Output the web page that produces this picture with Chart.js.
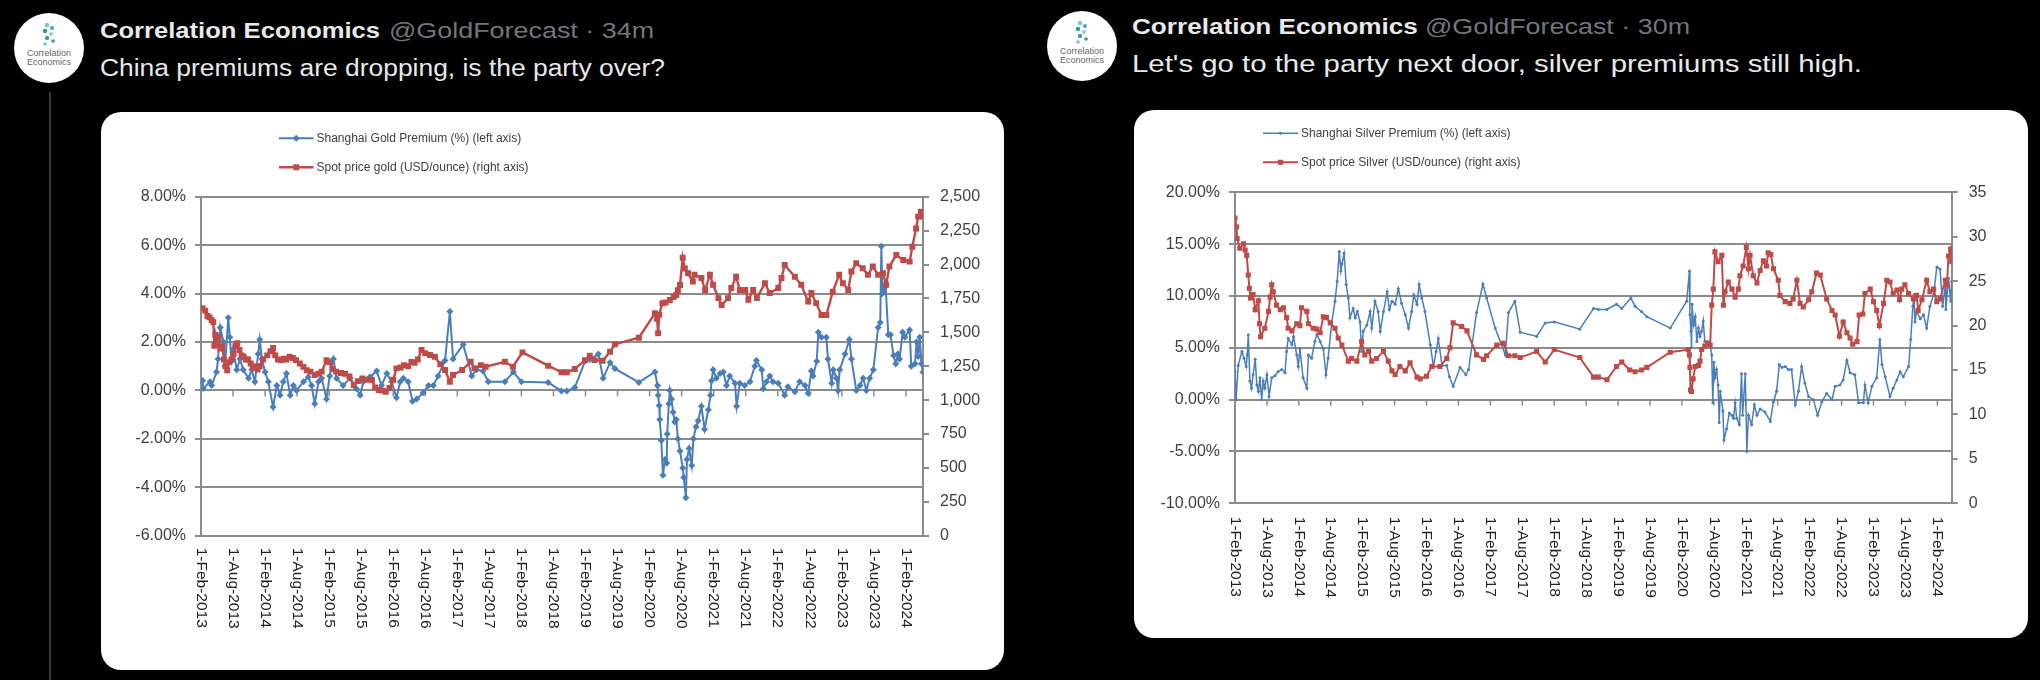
<!DOCTYPE html>
<html>
<head>
<meta charset="utf-8">
<script src="https://cdn.jsdelivr.net/npm/chart.js@4.4.1/dist/chart.umd.min.js"></script>
<style>
html, body { margin: 0; padding: 0; background: #000; }
body { width: 2040px; height: 680px; position: relative; overflow: hidden; font-family: "Liberation Sans", Arial, sans-serif; }
.avatar { position: absolute; width: 70px; height: 70px; border-radius: 50%; background: #fff; overflow: hidden; }
.thread { position: absolute; left: 49px; top: 92px; width: 2px; height: 588px; background: #333639; }
.tw { position: absolute; white-space: nowrap; transform-origin: 0 0; color: #e7e9ea; line-height: 1; }
.name { font-weight: bold; font-size: 22px; }
.handle { color: #71767b; font-size: 22px; }
.body { font-size: 23px; }
.card { position: absolute; background: #fff; border-radius: 20px; overflow: hidden; }
.card canvas { position: absolute; left: 0; top: 0; }
</style>
</head>
<body>

<div class="thread"></div>

<svg class="avatar" style="left:14px;top:13px" viewBox="0 0 70 70">
  <circle cx="33" cy="12" r="2.2" fill="#7cc6bd"/><circle cx="38" cy="15" r="2" fill="#3fa9c9"/>
  <circle cx="31" cy="18" r="2.2" fill="#2e9d8f"/><circle cx="37" cy="21" r="2" fill="#8fd0c8"/>
  <circle cx="33" cy="25" r="2.2" fill="#4a90c2"/><circle cx="39" cy="28" r="1.8" fill="#2e9d8f"/>
  <circle cx="31" cy="31" r="1.8" fill="#7cc6bd"/>
  <text x="35" y="43" font-size="9" text-anchor="middle" fill="#666" font-family="Liberation Sans Narrow, Liberation Sans">Correlation</text>
  <text x="35" y="52" font-size="9" text-anchor="middle" fill="#666" font-family="Liberation Sans Narrow, Liberation Sans">Economics</text>
</svg>
<div class="tw name" style="left:100px;top:20px" data-w="280">Correlation Economics</div>
<div class="tw handle" style="left:389px;top:20px" data-w="265">@GoldForecast · 34m</div>
<div class="tw body" style="left:100px;top:57px" data-w="565">China premiums are dropping, is the party over?</div>

<svg class="avatar" style="left:1047px;top:11px" viewBox="0 0 70 70">
  <circle cx="33" cy="12" r="2.2" fill="#7cc6bd"/><circle cx="38" cy="15" r="2" fill="#3fa9c9"/>
  <circle cx="31" cy="18" r="2.2" fill="#2e9d8f"/><circle cx="37" cy="21" r="2" fill="#8fd0c8"/>
  <circle cx="33" cy="25" r="2.2" fill="#4a90c2"/><circle cx="39" cy="28" r="1.8" fill="#2e9d8f"/>
  <circle cx="31" cy="31" r="1.8" fill="#7cc6bd"/>
  <text x="35" y="43" font-size="9" text-anchor="middle" fill="#666" font-family="Liberation Sans Narrow, Liberation Sans">Correlation</text>
  <text x="35" y="52" font-size="9" text-anchor="middle" fill="#666" font-family="Liberation Sans Narrow, Liberation Sans">Economics</text>
</svg>
<div class="tw name" style="left:1132px;top:16px" data-w="286">Correlation Economics</div>
<div class="tw handle" style="left:1425px;top:16px" data-w="265">@GoldForecast · 30m</div>
<div class="tw body" style="left:1132px;top:53px" data-w="730">Let's go to the party next door, silver premiums still high.</div>

<div class="card" style="left:101px;top:112px;width:903px;height:558px">
  <canvas id="chartGold" width="903" height="558"></canvas>
</div>
<div class="card" style="left:1134px;top:110px;width:894px;height:528px">
  <canvas id="chartSilver" width="894" height="528"></canvas>
</div>

<script>
// ---------- Eje X: meses desde 1-Feb-2013 ----------
const xTickMonths = [0, 6, 12, 18, 24, 30, 36, 42, 48, 54, 60, 66, 72, 78, 84, 90, 96, 102, 108, 114, 120, 126, 132];
const xTickLabels = ["1-Feb-2013", "1-Aug-2013", "1-Feb-2014", "1-Aug-2014", "1-Feb-2015", "1-Aug-2015",
  "1-Feb-2016", "1-Aug-2016", "1-Feb-2017", "1-Aug-2017", "1-Feb-2018", "1-Aug-2018", "1-Feb-2019",
  "1-Aug-2019", "1-Feb-2020", "1-Aug-2020", "1-Feb-2021", "1-Aug-2021", "1-Feb-2022", "1-Aug-2022",
  "1-Feb-2023", "1-Aug-2023", "1-Feb-2024"];

// ---------- Oro: prima Shanghai (%) ----------
const goldPremiumMonths = [0.3,0.4,1.7,2.0,2.9,3.2,3.6,4.2,4.5,5.1,5.4,5.7,6.0,6.7,7.3,7.9,8.9,9.5,10.1,10.7,
  11.0,11.4,12.0,12.6,13.5,14.2,14.8,15.4,16.0,16.7,17.3,17.9,19.2,20.1,20.7,21.3,22.0,22.6,23.5,24.1,
  24.8,25.4,26.6,27.9,29.1,29.8,30.4,31.6,32.9,33.8,34.8,35.7,36.6,37.3,37.9,38.8,39.6,40.4,41.6,42.6,
  43.5,44.4,
  45.7,46.6,47.2,49.1,50.7,51.6,52.8,53.8,56.9,58.5,60.0,65.0,67.5,68.5,70.0,71.9,72.8,74.4,75.3,76.6,
  77.5,82.0,85.0,85.5,85.6,85.8,85.9,86.2,86.5,86.9,87.2,87.3,87.6,87.8,88.1,88.4,88.7,89.0,89.3,89.7,
  90.2,90.4,90.8,91.0,91.4,91.9,92.2,92.7,93.1,93.7,94.3,95.0,95.4,95.6,95.9,96.5,97.2,97.8,98.4,99.0,
  100.0,100.3,100.9,101.8,102.8,103.7,104.0,105.0,105.3,105.9,106.5,107.1,108.1,109.3,109.9,111.2,112.1,113.1,113.7,114.3,
  114.6,115.3,115.6,116.2,117.1,117.4,118.1,118.4,119.0,119.3,119.6,120.6,121.4,121.8,122.7,123.4,124.0,124.6,125.2,125.9,
  126.8,127.2,127.4,127.6,127.8,128.2,128.7,129.1,129.7,130.1,130.5,130.8,131.4,131.8,132.7,133.0,133.7,134.0,134.3,134.6,
  134.9,135.2];
const goldPremiumValues = [0.41,0.08,0.36,0.2,0.76,1.3,2.6,2.0,1.0,3.0,2.2,1.2,1.7,0.85,1.3,0.85,0.5,0.85,0.36,1.5,
  2.1,1.3,0.76,0.36,-0.69,0.2,-0.2,0.36,0.7,-0.2,0.2,0.0,0.36,0.55,0.2,-0.55,0.36,0.5,-0.35,0.6,
  1.3,0.5,0.2,0.5,0.07,-0.2,0.36,0.55,0.8,0.2,0.7,0.36,-0.3,0.36,0.5,0.36,-0.45,-0.35,-0.1,0.2,
  0.2,0.6,
  1.24,3.26,1.3,1.9,0.6,0.85,0.8,0.36,0.36,0.76,0.36,0.33,-0.02,-0.02,0.12,1.2,1.28,1.5,0.5,1.15,
  0.9,0.33,0.76,0.2,-0.2,-0.62,-1.2,-2.07,-3.5,-2.85,-3.0,-1.8,-0.55,0.0,-0.35,-0.9,-1.3,-1.2,-2.0,-2.5,
  -3.2,-3.6,-4.43,-2.85,-2.4,-3.1,-2.0,-1.5,-1.25,-0.65,-1.6,-0.8,-0.2,0.4,0.85,0.5,0.7,0.76,0.2,0.6,
  0.3,-0.65,0.3,0.2,0.36,1.0,1.24,0.85,0.07,0.36,0.6,0.36,0.3,-0.2,0.15,-0.05,0.36,0.2,-0.12,0.8,
  0.6,1.2,2.4,2.2,2.2,1.3,0.3,0.85,0.5,0.0,0.85,1.5,2.1,1.3,0.0,0.2,0.5,0.0,0.5,0.85,
  2.6,2.8,5.95,4.0,4.1,4.3,2.3,2.3,1.44,1.1,1.5,1.3,2.4,2.2,2.5,1.0,1.1,2.0,1.4,2.2,
  1.1,0.75];

// ---------- Oro: precio spot (USD/oz) ----------
const goldPriceMonths = [0.3,0.8,1.2,1.6,2.0,2.3,2.5,2.7,3.0,3.3,3.6,4.0,4.3,4.6,4.9,5.3,5.7,6.1,6.5,6.8,
  7.2,7.6,8.0,8.4,8.8,9.3,9.7,10.2,10.6,11.0,11.6,12.4,13.0,13.5,13.9,14.4,15.0,15.5,16.0,16.6,
  17.2,17.8,18.5,19.2,19.8,20.5,21.3,22.0,22.6,23.5,24.0,24.6,25.3,26.2,27.0,27.8,28.6,29.4,30.2,31.1,
  32.0,32.6,33.3,34.0,34.6,35.3,36.0,36.6,37.4,38.0,38.8,39.4,40.0,40.6,41.3,42.0,42.9,43.8,44.8,45.7,
  46.6,47.2,48.9,50.5,51.2,52.4,53.3,56.9,58.4,60.2,65.0,67.5,68.5,70.0,71.9,72.8,73.7,75.2,76.6,77.5,
  82.0,85.0,85.4,85.6,85.8,86.4,87.0,87.8,88.5,89.0,89.3,89.7,90.2,90.6,91.2,92.1,92.4,93.7,94.4,95.3,
  95.9,96.9,97.5,98.7,99.3,100.2,100.9,101.9,102.5,103.4,104.1,105.6,106.5,108.1,108.7,109.3,111.2,112.4,113.7,114.3,
  115.2,116.2,117.1,118.3,119.5,120.2,121.2,121.8,122.7,123.9,124.9,125.8,126.8,127.7,128.3,128.9,130.2,131.5,132.7,133.2,
  133.9,134.3,134.8,135.2];
const goldPriceValues = [1677,1660,1620,1610,1590,1575,1400,1480,1420,1460,1380,1395,1300,1250,1220,1280,1300,1340,1400,1420,
  1370,1330,1320,1300,1300,1270,1250,1240,1225,1250,1300,1330,1360,1385,1330,1300,1295,1305,1300,1320,
  1310,1295,1270,1245,1220,1210,1185,1195,1210,1295,1280,1230,1210,1200,1195,1175,1112,1140,1160,1150,
  1150,1094,1075,1070,1062,1090,1150,1234,1240,1258,1250,1282,1275,1300,1370,1345,1332,1320,1265,1222,
  1136,1185,1222,1283,1234,1258,1246,1283,1246,1352,1254,1205,1205,1230,1295,1327,1295,1290,1357,1411,
  1460,1640,1600,1493,1630,1714,1720,1738,1760,1775,1810,1849,2050,1970,1935,1874,1924,1900,1812,1924,
  1850,1752,1701,1752,1826,1910,1812,1812,1740,1812,1752,1862,1790,1826,1900,1996,1910,1850,1726,1790,
  1715,1627,1627,1800,1924,1862,1812,1948,2009,1972,1924,1985,1924,1935,1850,1985,2070,2033,2021,2131,
  2266,2353,2390,2353];

// ---------- Plata: prima Shanghai (%) ----------
const silverPremiumMonths = [0.0,0.2,0.6,1.3,1.7,2.1,2.3,2.5,2.8,3.1,3.4,3.8,4.1,4.4,4.7,5.0,5.3,5.6,6.0,6.4,
  6.9,7.5,8.1,8.8,9.4,9.7,10.0,10.7,11.0,11.6,11.9,12.2,12.8,13.5,13.8,14.4,15.0,15.4,16.0,16.6,
  17.1,17.5,18.2,18.8,19.2,19.6,19.9,20.1,20.5,20.9,21.3,21.6,22.2,22.6,23.0,23.5,23.8,24.1,24.8,25.4,
  25.7,26.3,26.9,27.3,27.9,28.6,29.0,29.5,30.1,30.7,31.3,32.0,32.6,33.2,33.6,34.2,34.6,35.1,35.7,36.7,
  37.3,37.8,38.2,38.9,39.8,40.3,41.0,42.3,43.4,43.9,
  45.4,46.6,47.3,48.9,50.8,51.4,52.6,53.6,56.7,58.3,60.0,64.8,67.4,68.3,69.9,71.7,72.7,74.4,75.2,76.4,
  77.4,81.8,84.9,85.4,85.5,85.7,85.8,85.9,86.2,86.5,86.8,87.1,87.4,87.7,88.0,88.3,
  88.7,89.3,89.6,89.8,90.0,90.2,90.5,90.8,91.0,91.2,91.7,91.9,92.4,92.9,93.4,93.7,94.0,94.3,94.8,95.2,
  95.4,95.9,96.2,96.5,97.1,97.6,98.1,98.7,99.6,100.6,101.2,101.8,102.3,102.8,103.4,104.0,104.6,105.3,105.9,106.5,
  107.1,107.8,108.7,109.5,110.3,111.2,112.2,112.8,113.7,114.3,115.0,115.6,116.5,117.2,118.1,118.4,119.0,119.7,120.6,121.2,
  121.6,122.2,123.1,123.7,124.4,125.0,125.6,126.6,127.0,127.4,127.6,127.8,128.1,128.8,129.4,130.0,130.6,131.3,131.9,132.5,
  133.0,133.5,133.6,134.1,134.5,134.7];
const silverPremiumValues = [2.7,0.0,3.3,4.65,4.0,3.2,4.3,6.27,1.8,1.1,2.4,3.9,1.4,0.8,2.1,0.0,1.8,1.1,2.4,0.3,
  2.1,2.3,2.7,2.9,2.6,4.65,5.9,5.3,6.1,4.3,3.2,4.9,2.1,1.1,4.3,4.0,5.6,6.3,5.6,4.9,
  2.4,4.0,7.5,9.5,11.4,14.3,12.4,13.1,14.1,11.1,9.8,7.9,8.8,7.9,8.5,7.5,4.65,6.6,7.2,8.5,
  6.9,9.5,8.5,6.6,8.5,10.4,8.7,9.5,9.2,10.7,9.3,8.2,6.9,8.5,10.1,9.2,11.1,9.8,8.5,5.3,
  3.2,4.65,5.9,3.3,3.3,2.2,1.3,3.1,2.4,2.9,
  8.4,11.15,9.8,6.9,4.3,8.4,9.5,6.5,6.1,7.4,7.5,6.8,8.8,8.7,8.7,9.2,8.8,9.8,9.0,8.5,
  8.0,6.9,9.5,12.4,8.2,6.6,5.0,9.2,7.2,8.0,5.6,6.9,6.1,6.6,7.6,5.6,
  5.6,5.3,4.3,-0.3,3.6,2.1,2.9,1.4,-2.2,0.8,-1.1,-3.9,-2.8,-1.3,-1.5,-1.8,-0.3,-1.8,-2.4,2.5,
  -1.5,2.5,-5.0,-1.5,-2.4,-0.5,-1.5,-0.9,-1.2,-2.1,-0.2,0.8,3.4,3.1,3.2,2.9,2.9,-0.5,0.8,3.2,
  1.6,0.3,0.0,-1.5,-0.2,0.6,0.0,1.3,1.4,1.9,3.8,2.6,2.4,-0.3,-0.3,1.4,-0.3,1.3,2.1,5.8,
  3.4,2.2,0.3,1.1,1.9,2.7,2.2,3.2,5.8,9.0,10.1,7.5,8.5,7.8,8.2,6.9,9.0,10.1,12.8,12.6,
  9.0,11.1,8.7,11.7,9.5,11.4];

// ---------- Plata: precio spot (USD/oz) ----------
const silverPriceMonths = [0.0,0.3,0.4,0.9,1.6,1.9,2.2,2.5,2.7,2.9,3.4,3.8,4.4,4.6,4.8,5.6,6.3,6.6,6.9,7.2,
  7.8,8.5,9.1,9.7,10.0,10.7,11.6,12.2,12.5,13.5,13.8,14.7,15.4,16.0,16.6,17.2,17.9,18.8,19.4,20.1,
  21.3,21.9,22.9,23.8,24.4,25.1,25.7,26.6,27.9,28.8,29.5,30.1,31.0,32.0,32.9,34.2,34.8,36.0,37.0,38.5,
  39.8,40.4,41.0,42.6,43.6,
  45.4,46.7,47.3,49.2,50.4,51.4,52.6,53.6,56.7,58.3,60.0,64.8,67.4,68.3,69.9,71.7,72.7,74.2,75.2,76.4,
  77.4,81.8,85.2,85.4,85.5,85.6,85.8,86.1,86.5,87.1,87.4,87.7,88.3,
  88.9,89.3,89.6,89.9,90.2,90.8,91.5,91.8,92.1,92.7,93.4,94.0,94.6,94.9,95.5,96.1,96.5,96.8,97.4,98.1,
  98.7,99.3,99.9,100.2,100.7,101.2,102.1,102.4,103.4,104.3,104.9,105.6,106.2,106.8,107.8,108.4,109.3,110.0,111.2,112.2,
  112.8,113.6,114.3,115.0,115.6,116.1,116.9,117.3,118.0,118.4,119.4,120.0,120.6,121.1,121.9,122.5,123.1,123.7,124.4,124.9,
  125.3,125.9,126.6,127.5,128.1,128.4,129.1,130.0,130.6,131.3,131.9,132.5,133.5,133.8,134.1,134.5,134.7];
const silverPriceValues = [32.1,31.1,29.8,28.7,29.2,28.5,27.9,25.7,24.2,23.1,23.5,21.8,22.8,20.2,18.75,19.7,21.6,23.2,24.6,23.8,
  22.3,21.8,22.0,20.9,19.7,19.4,20.2,20.0,22.0,21.6,20.2,19.7,19.6,19.2,21.0,20.9,20.3,19.7,18.6,17.8,
  16.0,16.3,16.0,18.2,16.7,17.1,16.0,16.3,17.1,16.0,14.9,14.5,15.4,14.9,15.8,14.2,14.0,14.3,15.4,15.4,
  16.3,17.5,20.3,19.9,19.4,
  16.7,16.2,16.6,17.8,18.0,16.6,16.6,16.4,17.1,15.9,17.3,16.4,14.2,14.2,13.9,15.4,15.9,15.0,14.8,15.0,
  15.3,17.0,17.3,16.7,15.3,12.75,12.6,14.0,15.4,15.5,16.0,17.3,17.7,
  18.0,17.8,22.3,24.1,28.3,27.2,27.9,22.3,23.8,24.9,24.1,23.2,24.1,25.6,26.7,28.8,26.4,27.9,25.6,24.8,
  26.2,27.3,26.7,28.2,28.0,26.4,25.1,23.4,22.7,22.5,23.0,25.1,22.5,22.1,22.9,23.8,25.9,25.7,23.0,21.7,
  21.2,18.8,20.4,19.2,18.6,17.9,18.2,21.2,21.3,23.6,24.1,22.7,21.7,20.0,22.5,25.1,24.9,23.6,24.0,22.9,
  24.1,24.6,23.6,23.0,23.4,21.7,22.9,25.1,23.8,24.1,22.7,23.0,25.1,24.6,27.8,28.6,27.2];

const BLUE = "#4A7EBB";
const RED = "#BE4B48";
const GRID = "#8C8C8C";
const FONT = '"Liberation Sans", Arial, sans-serif';

const toPoints = (xs, ys) => xs.map((x, i) => ({ x, y: ys[i] }));

// ---------- Marcadores estilo Excel ----------
function drawMarker(ctx, style, r, x, y) {
  ctx.beginPath();
  if (style === "rectRot") {
    ctx.moveTo(x, y - r); ctx.lineTo(x + r, y); ctx.lineTo(x, y + r); ctx.lineTo(x - r, y);
    ctx.closePath();
  } else if (style === "rect") {
    const s = r * Math.SQRT1_2;
    ctx.rect(x - s, y - s, 2 * s, 2 * s);
  } else {
    ctx.arc(x, y, r, 0, Math.PI * 2);
  }
  ctx.fill();
}

// Leyenda de dos filas, línea con marcador al centro
const excelLegend = {
  id: "excelLegend",
  afterDraw(chart, args, opts) {
    const ctx = chart.ctx;
    opts.rows.forEach((y, k) => {
      const ds = chart.data.datasets[k];
      ctx.save();
      ctx.strokeStyle = ds.borderColor;
      ctx.lineWidth = ds.borderWidth;
      ctx.beginPath(); ctx.moveTo(opts.x1, y); ctx.lineTo(opts.x2, y); ctx.stroke();
      ctx.fillStyle = ds.pointBackgroundColor;
      drawMarker(ctx, ds.pointStyle, ds.pointRadius, (opts.x1 + opts.x2) / 2, y);
      ctx.fillStyle = "#404040";
      ctx.font = "12px " + FONT;
      ctx.textBaseline = "middle";
      ctx.fillText(ds.label, opts.x2 + 3, y + 0.5);
      ctx.restore();
    });
  }
};

// Marcas del eje de categorías en 0 y etiquetas giradas 90°
const excelDateAxis = {
  id: "excelDateAxis",
  beforeDatasetsDraw(chart) {
    const { ctx } = chart;
    const xs = chart.scales.x, ys = chart.scales.y;
    const y0 = ys.getPixelForValue(0);
    ctx.save();
    ctx.strokeStyle = GRID;
    ctx.lineWidth = 1.5;
    xTickMonths.forEach(m => {
      const px = xs.getPixelForValue(m);
      ctx.beginPath(); ctx.moveTo(px, y0); ctx.lineTo(px, y0 + 6); ctx.stroke();
    });
    ctx.restore();
  },
  afterDraw(chart, args, opts) {
    const { ctx, chartArea } = chart;
    const xs = chart.scales.x;
    ctx.save();
    ctx.fillStyle = "#222";
    ctx.font = "15.5px " + FONT;
    ctx.textAlign = "left";
    ctx.textBaseline = "middle";
    xTickMonths.forEach((m, i) => {
      ctx.save();
      ctx.translate(xs.getPixelForValue(m), chartArea.bottom + opts.gap);
      ctx.rotate(Math.PI / 2);
      ctx.fillText(xTickLabels[i], 0, 0);
      ctx.restore();
    });
    ctx.restore();
  }
};

function buildChart(id, cfg) {
  return new Chart(document.getElementById(id), {
    type: "line",
    data: {
      datasets: [
        {
          label: cfg.premiumLabel,
          data: toPoints(cfg.premiumMonths, cfg.premiumValues),
          yAxisID: "y",
          borderColor: BLUE,
          backgroundColor: BLUE,
          borderWidth: cfg.premiumLine,
          pointStyle: cfg.premiumMarker,
          pointRadius: cfg.premiumRadius,
          pointBackgroundColor: BLUE,
          pointBorderWidth: 0,
          tension: 0,
          order: 2
        },
        {
          label: cfg.priceLabel,
          data: toPoints(cfg.priceMonths, cfg.priceValues),
          yAxisID: "y2",
          borderColor: RED,
          backgroundColor: RED,
          borderWidth: cfg.priceLine,
          pointStyle: "rect",
          pointRadius: cfg.priceRadius,
          pointBackgroundColor: RED,
          pointBorderWidth: 0,
          tension: 0,
          order: 1
        }
      ]
    },
    options: {
      responsive: false,
      animation: false,
      events: [],
      devicePixelRatio: 1,
      layout: { padding: { top: cfg.padTop, left: 0, right: 0, bottom: 0 } },
      plugins: {
        legend: { display: false },
        tooltip: { enabled: false },
        excelLegend: { rows: cfg.legendRows, x1: cfg.legendX1, x2: cfg.legendX2 },
        excelDateAxis: { gap: cfg.labelGap }
      },
      scales: {
        x: {
          type: "linear",
          min: 0,
          max: cfg.xMax,
          ticks: { display: false },
          grid: { display: false },
          border: { display: false },
          afterFit: s => { s.height = cfg.xHeight; }
        },
        y: {
          position: "left",
          min: cfg.leftMin,
          max: cfg.leftMax,
          ticks: {
            stepSize: cfg.leftStep,
            padding: 9,
            color: "#404040",
            font: { family: FONT, size: 16 },
            callback: v => v.toFixed(2) + "%"
          },
          grid: { color: GRID, lineWidth: 2, drawTicks: true, tickLength: 6, tickColor: GRID },
          border: { display: true, color: GRID, width: 2 },
          afterFit: s => { s.width = cfg.leftWidth; }
        },
        y2: {
          position: "right",
          min: 0,
          max: cfg.rightMax,
          ticks: {
            stepSize: cfg.rightStep,
            padding: 11,
            color: "#404040",
            font: { family: FONT, size: 16 }
          },
          grid: { drawOnChartArea: false, color: GRID, lineWidth: 2, drawTicks: true, tickLength: 6, tickColor: GRID },
          border: { display: true, color: GRID, width: 2 },
          afterFit: s => { s.width = cfg.rightWidth; }
        }
      }
    },
    plugins: [excelLegend, excelDateAxis]
  });
}

function fitTweetText() {
  document.querySelectorAll("[data-w]").forEach(el => {
    const w = el.getBoundingClientRect().width;
    el.style.transform = "scaleX(" + (Number(el.dataset.w) / w).toFixed(3) + ")";
  });
}

function start() {
  fitTweetText();

  buildChart("chartGold", {
    premiumLabel: "Shanghai Gold Premium (%) (left axis)",
    priceLabel: "Spot price gold (USD/ounce) (right axis)",
    premiumMonths: goldPremiumMonths, premiumValues: goldPremiumValues,
    priceMonths: goldPriceMonths, priceValues: goldPriceValues,
    premiumMarker: "rectRot", premiumRadius: 3.5, premiumLine: 2,
    priceRadius: 4.2, priceLine: 2.4,
    xMax: 135.2,
    leftMin: -6, leftMax: 8, leftStep: 2,
    rightMax: 2500, rightStep: 250,
    padTop: 84.7, xHeight: 134.3, leftWidth: 100, rightWidth: 81,
    legendRows: [26.3, 55.3], legendX1: 178, legendX2: 212.5,
    labelGap: 12
  });

  buildChart("chartSilver", {
    premiumLabel: "Shanghai Silver Premium (%) (left axis)",
    priceLabel: "Spot price Silver (USD/ounce) (right axis)",
    premiumMonths: silverPremiumMonths, premiumValues: silverPremiumValues,
    priceMonths: silverPriceMonths, priceValues: silverPriceValues,
    premiumMarker: "circle", premiumRadius: 1.5, premiumLine: 1.5,
    priceRadius: 3.6, priceLine: 2,
    xMax: 134.7,
    leftMin: -10, leftMax: 20, leftStep: 5,
    rightMax: 35, rightStep: 5,
    padTop: 82.3, xHeight: 134.7, leftWidth: 101, rightWidth: 76.3,
    legendRows: [23.3, 52.3], legendX1: 129, legendX2: 164,
    labelGap: 13.5
  });
}

document.addEventListener("DOMContentLoaded", start);
</script>
</body>
</html>
